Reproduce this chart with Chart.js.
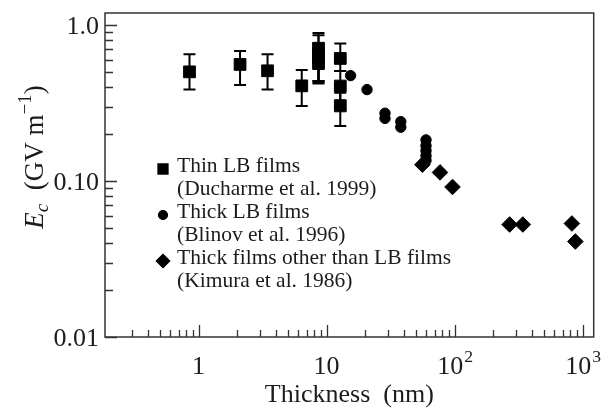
<!DOCTYPE html>
<html><head><meta charset="utf-8">
<script src="https://cdn.jsdelivr.net/npm/chart.js@4.4.0/dist/chart.umd.min.js"></script>
<style>html,body{margin:0;padding:0;background:#fff}#wrap{width:603px;height:410px}</style>
</head><body><div id="wrap"><canvas id="c" width="603" height="410"></canvas></div>
<script>
// ---- data ----
const thinX       = [0.85, 2.11, 3.46, 6.4, 8.65, 8.65, 8.65, 8.65, 12.8, 12.8, 12.8];
const thinY       = [0.503, 0.561, 0.511, 0.409, 0.713, 0.662, 0.616, 0.568, 0.613, 0.408, 0.304];
const thinErrLow  = [0.388, 0.414, 0.388, 0.304, 0.44, 0.43, 0.44, 0.424, 0.51, 0.33, 0.226];
const thinErrHigh = [0.653, 0.685, 0.653, 0.516, 0.893, 0.863, 0.76, 0.70, 0.764, 0.51, 0.37];

const thickX = [15.4, 20.7, 28.6, 28.6, 38.0, 38.0, 59.8, 59.8, 59.8, 59.8, 59.8];
const thickY = [0.476, 0.387, 0.273, 0.253, 0.241, 0.222, 0.184, 0.169, 0.157, 0.1456, 0.136];

const otherX = [56, 76.9, 96.3, 269, 341, 824, 877];
const otherY = [0.1275, 0.1138, 0.0918, 0.0527, 0.0527, 0.0535, 0.041];

const xMajorTicks  = [1, 10, 100, 1000];
const xMajorLabels = ['1', '10', '10^2', '10^3'];
const xMinorTicks  = [0.3,0.4,0.5,0.6,0.7,0.8,0.9, 2,3,4,5,6,7,8,9, 20,30,40,50,60,70,80,90, 200,300,400,500,600,700,800,900];
const yMajorTicks  = [0.01, 0.1, 1];
const yMajorLabels = ['0.01', '0.10', '1.0'];
const yMinorTicks  = [0.02,0.03,0.04,0.05,0.06,0.07,0.08,0.09, 0.2,0.3,0.4,0.5,0.6,0.7,0.8,0.9];

const legendLines = [
  ['Thin LB films', '(Ducharme et al. 1999)'],
  ['Thick LB films', '(Blinov et al. 1996)'],
  ['Thick films other than LB films', '(Kimura et al. 1986)']
];
const xTitle = 'Thickness  (nm)';

// ---- drawing ----
const FONT = '"Liberation Serif", "Times New Roman", serif';
const INK = '#1c1c1c';

function drawSupLabel(ctx, text, cx, baseline, size) {
  const parts = text.split('^');
  ctx.font = `${size}px ${FONT}`;
  const wb = ctx.measureText(parts[0]).width;
  let ws = 0;
  if (parts[1]) { ctx.font = `${size*0.68}px ${FONT}`; ws = ctx.measureText(parts[1]).width; }
  const start = cx - (wb + ws) / 2;
  ctx.textAlign = 'left';
  ctx.font = `${size}px ${FONT}`;
  ctx.fillText(parts[0], start, baseline);
  if (parts[1]) { ctx.font = `${size*0.68}px ${FONT}`; ctx.fillText(parts[1], start + wb + 1, baseline - size*0.45); }
}

const errorBarPlugin = {
  id: 'errbars',
  beforeDatasetsDraw(chart) {
    const {ctx, scales: {x, y}} = chart;
    ctx.save();
    ctx.strokeStyle = '#000'; ctx.lineWidth = 2;
    thinX.forEach((xv, i) => {
      const px = x.getPixelForValue(xv);
      const lo = y.getPixelForValue(thinErrLow[i]);
      const hi = y.getPixelForValue(thinErrHigh[i]);
      ctx.beginPath();
      ctx.moveTo(px, lo); ctx.lineTo(px, hi);
      ctx.moveTo(px - 6, lo); ctx.lineTo(px + 6, lo);
      ctx.moveTo(px - 6, hi); ctx.lineTo(px + 6, hi);
      ctx.stroke();
    });
    ctx.restore();
  }
};

const framePlugin = {
  id: 'frame',
  afterDraw(chart) {
    const {ctx, chartArea: a, scales: {x, y}} = chart;
    ctx.save();
    ctx.strokeStyle = '#333'; ctx.lineWidth = 1.5;
    ctx.strokeRect(a.left, a.top, a.right - a.left, a.bottom - a.top);
    ctx.lineWidth = 1.3;
    ctx.beginPath();
    xMajorTicks.forEach(v => { const p = Math.round(x.getPixelForValue(v)) + 0.5; ctx.moveTo(p, a.bottom); ctx.lineTo(p, a.bottom - 12); });
    xMinorTicks.forEach(v => { const p = Math.round(x.getPixelForValue(v)) + 0.5; ctx.moveTo(p, a.bottom); ctx.lineTo(p, a.bottom - 7); });
    yMajorTicks.forEach(v => { const p = Math.round(y.getPixelForValue(v)) + 0.5; ctx.moveTo(a.left, p); ctx.lineTo(a.left + 12, p); });
    yMinorTicks.forEach(v => { const p = Math.round(y.getPixelForValue(v)) + 0.5; ctx.moveTo(a.left, p); ctx.lineTo(a.left + 8, p); });
    ctx.stroke();

    ctx.fillStyle = INK;
    ctx.textBaseline = 'alphabetic';
    // x tick labels
    xMajorTicks.forEach((v, i) => drawSupLabel(ctx, xMajorLabels[i], x.getPixelForValue(v), a.bottom + 37, 26));
    // y tick labels
    ctx.font = `26px ${FONT}`; ctx.textAlign = 'right';
    yMajorTicks.forEach((v, i) => ctx.fillText(yMajorLabels[i], a.left - 6, y.getPixelForValue(v) + 9));
    // x title
    ctx.textAlign = 'center'; ctx.font = `26px ${FONT}`;
    ctx.fillText(xTitle, (a.left + a.right) / 2, 402);
    // y title (rotated)
    ctx.save();
    ctx.translate(43, 157); ctx.rotate(-Math.PI / 2);
    const segs = [
      {t: 'E', f: `italic 27px ${FONT}`, dy: 0},
      {t: 'c', f: `italic 19px ${FONT}`, dy: 5},
      {t: '  (GV m', f: `27px ${FONT}`, dy: 0},
      {t: '\u22121', f: `19px ${FONT}`, dy: -12},
      {t: ')', f: `27px ${FONT}`, dy: 0}
    ];
    let tw = 0; segs.forEach(s => { ctx.font = s.f; s.w = ctx.measureText(s.t).width; tw += s.w; });
    let cx = -tw / 2; ctx.textAlign = 'left';
    segs.forEach(s => { ctx.font = s.f; ctx.fillText(s.t, cx, s.dy); cx += s.w; });
    ctx.restore();

    // legend
    const baselines = [172, 195, 218, 241, 264, 287];
    chart.data.datasets.forEach((ds, i) => {
      const b1 = baselines[i * 2], b2 = baselines[i * 2 + 1];
      ctx.fillStyle = '#000'; ctx.strokeStyle = '#000';
      Chart.helpers.drawPoint(ctx, {pointStyle: ds.pointStyle, radius: ds.pointRadius * 0.85, rotation: 0, borderWidth: 1}, 163, b1 - 3);
      ctx.fill();
      ctx.fillStyle = INK; ctx.font = `21.5px ${FONT}`; ctx.textAlign = 'left';
      ctx.fillText(legendLines[i][0], 177, b1);
      ctx.fillText(legendLines[i][1], 177, b2);
    });
    ctx.restore();
  }
};

const pts = (xs, ys) => xs.map((v, i) => ({x: v, y: ys[i]}));

new Chart(document.getElementById('c').getContext('2d'), {
  type: 'scatter',
  data: { datasets: [
    {label: legendLines[0][0], data: pts(thinX, thinY), pointStyle: 'rect', pointRadius: 8.3, backgroundColor: '#000', borderColor: '#000', borderWidth: 1},
    {label: legendLines[1][0], data: pts(thickX, thickY), pointStyle: 'circle', pointRadius: 5.2, backgroundColor: '#000', borderColor: '#000', borderWidth: 1},
    {label: legendLines[2][0], data: pts(otherX, otherY), pointStyle: 'rectRot', pointRadius: 7.8, backgroundColor: '#000', borderColor: '#000', borderWidth: 1}
  ]},
  options: {
    responsive: false, devicePixelRatio: 1, animation: false,
    layout: {padding: {left: 0, right: 7, top: 13, bottom: 0}},
    plugins: {legend: {display: false}, tooltip: {enabled: false}},
    scales: {
      x: {type: 'logarithmic', min: 0.186, max: 1220, grid: {display: false}, border: {display: false}, ticks: {display: false},
          afterFit(s) { s.height = 73; }},
      y: {type: 'logarithmic', min: 0.01, max: 1.2, grid: {display: false}, border: {display: false}, ticks: {display: false},
          afterFit(s) { s.width = 105; }}
    }
  },
  plugins: [errorBarPlugin, framePlugin]
});
</script></body></html>
